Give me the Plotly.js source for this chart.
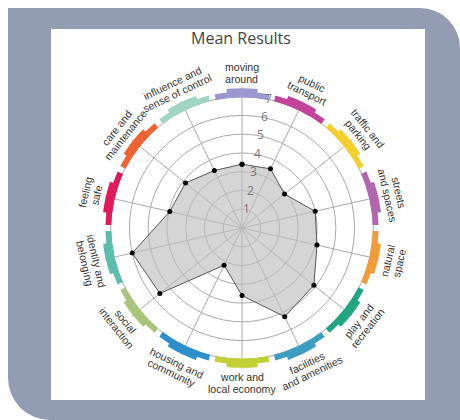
<!DOCTYPE html>
<html><head><meta charset="utf-8">
<script src="https://cdn.plot.ly/plotly-3.0.1.min.js"></script>
<style>
html,body{margin:0;padding:0;width:460px;height:420px;overflow:hidden;background:#fff;}
#bg{position:absolute;left:8px;top:8px;width:452px;height:412px;background:#929db3;border-radius:0 40px 0 42px;}
#panel{position:absolute;left:51px;top:29px;width:374px;height:371px;background:#fff;}
#plot{position:absolute;left:0;top:0;width:460px;height:420px;}
</style></head><body>
<div id="bg"></div><div id="panel"></div><div id="plot"></div>
<script>
const categories = ["moving around","public transport","traffic and parking","streets and spaces","natural space","play and recreation","facilities and amenities","work and local economy","housing and community","social interaction","identity and belonging","feeling safe","care and maintenance","influence and sense of control"];
const labelLines = [["moving","around"],["public","transport"],["traffic and","parking"],["streets","and spaces"],["natural","space"],["play and","recreation"],["facilities","and amenities"],["work and","local economy"],["housing and","community"],["social","interaction"],["identity and","belonging"],["feeling","safe"],["care and","maintenance"],["influence and","sense of control"]];
const meanValues = [3.4, 3.5, 2.9, 4.0, 4.1, 4.9, 5.25, 3.6, 2.2, 5.6, 6.0, 3.95, 3.85, 3.4];
const ringColors = ["#9b97cf","#c2439a","#f5cf2f","#b366b0","#f29b38","#1ea581","#3d9ec0","#c2cf36","#2d8ecc","#a9c57c","#5dbdac","#e2195c","#ec6431","#9fd6c3"];
const radialTicks = [1,2,3,4,5,6,7];

const W = 460, H = 420, cx = 242, cy = 228, unit = 18.76, rMax = 7.5;
const R = unit * rMax;
const bandBase = 6.97, bandH = 0.31, tabH = 0.48;
const tickAngle = 79;

const traces = [
  {type:'barpolar', theta: categories, r: categories.map(()=>bandH), base: bandBase,
   marker:{color: ringColors, line:{width:0}}, hoverinfo:'skip', showlegend:false},
  {type:'barpolar', theta: categories, r: categories.map(()=>tabH), base: bandBase, width: 0.5,
   marker:{color: ringColors, line:{width:0}}, hoverinfo:'skip', showlegend:false},
  {type:'scatterpolar', theta: categories.concat([categories[0]]), r: meanValues.concat([meanValues[0]]),
   mode:'lines+markers', fill:'toself', fillcolor:'rgba(190,190,190,0.65)',
   line:{color:'#555', width:1}, marker:{color:'#000', size:5}, showlegend:false}
];

const annotations = [];
const n = categories.length;
const R0 = 155, half = 5.6;
labelLines.forEach((lines, i) => {
  const th = i * 360 / n;
  const upper = (th < 90 || th > 270);
  const ang = upper ? th : th - 180;
  lines.forEach((txt, k) => {
    const off = upper ? (k === 0 ? half : -half) : (k === 0 ? -half : half);
    const rr = R0 + off;
    const rad = th * Math.PI / 180;
    const px = cx + rr * Math.sin(rad);
    const py = cy - rr * Math.cos(rad);
    annotations.push({xref:'paper', yref:'paper', x: px / W, y: 1 - py / H,
      xanchor:'center', yanchor:'middle', showarrow:false, text: txt, textangle: ang,
      font:{family:'Liberation Sans, Arial, sans-serif', size:10.6, color:'#333'}});
  });
});
// radial tick labels along a slanted line, as in the reference
radialTicks.forEach(v => {
  const a = tickAngle * Math.PI / 180;
  const px = cx + v * unit * Math.cos(a) + 1;
  const py = cy - v * unit * Math.sin(a) - 1;
  annotations.push({xref:'paper', yref:'paper', x: px / W, y: 1 - py / H,
    xanchor:'center', yanchor:'middle', showarrow:false, text: String(v),
    font:{family:'Open Sans, sans-serif', size:12, color:'#777'}});
});

const layout = {
  width: W, height: H, margin:{l:0,r:0,t:0,b:0},
  paper_bgcolor:'rgba(0,0,0,0)', plot_bgcolor:'rgba(0,0,0,0)',
  showlegend:false,
  title:{text:'Mean Results', x: 241/W, xanchor:'center', y: 1 - 38/H, yanchor:'middle', yref:'container',
         font:{family:'Open Sans, sans-serif', size:16, color:'#444'}},
  polar:{
    domain:{x:[(cx - R)/W, (cx + R)/W], y:[(H - cy - R)/H, (H - cy + R)/H]},
    bgcolor:'rgba(0,0,0,0)',
    barmode:'overlay',
    radialaxis:{range:[0, rMax], tickvals: radialTicks, showticklabels:false,
      showline:false, ticks:'', gridcolor:'#aaa', gridwidth:1},
    angularaxis:{type:'category', direction:'clockwise', rotation:90, showticklabels:false, ticks:'',
      showline:false, gridcolor:'#aaa', gridwidth:1}
  },
  annotations: annotations
};
Plotly.newPlot('plot', traces, layout, {displayModeBar:false, staticPlot:true});
</script>
</body></html>
